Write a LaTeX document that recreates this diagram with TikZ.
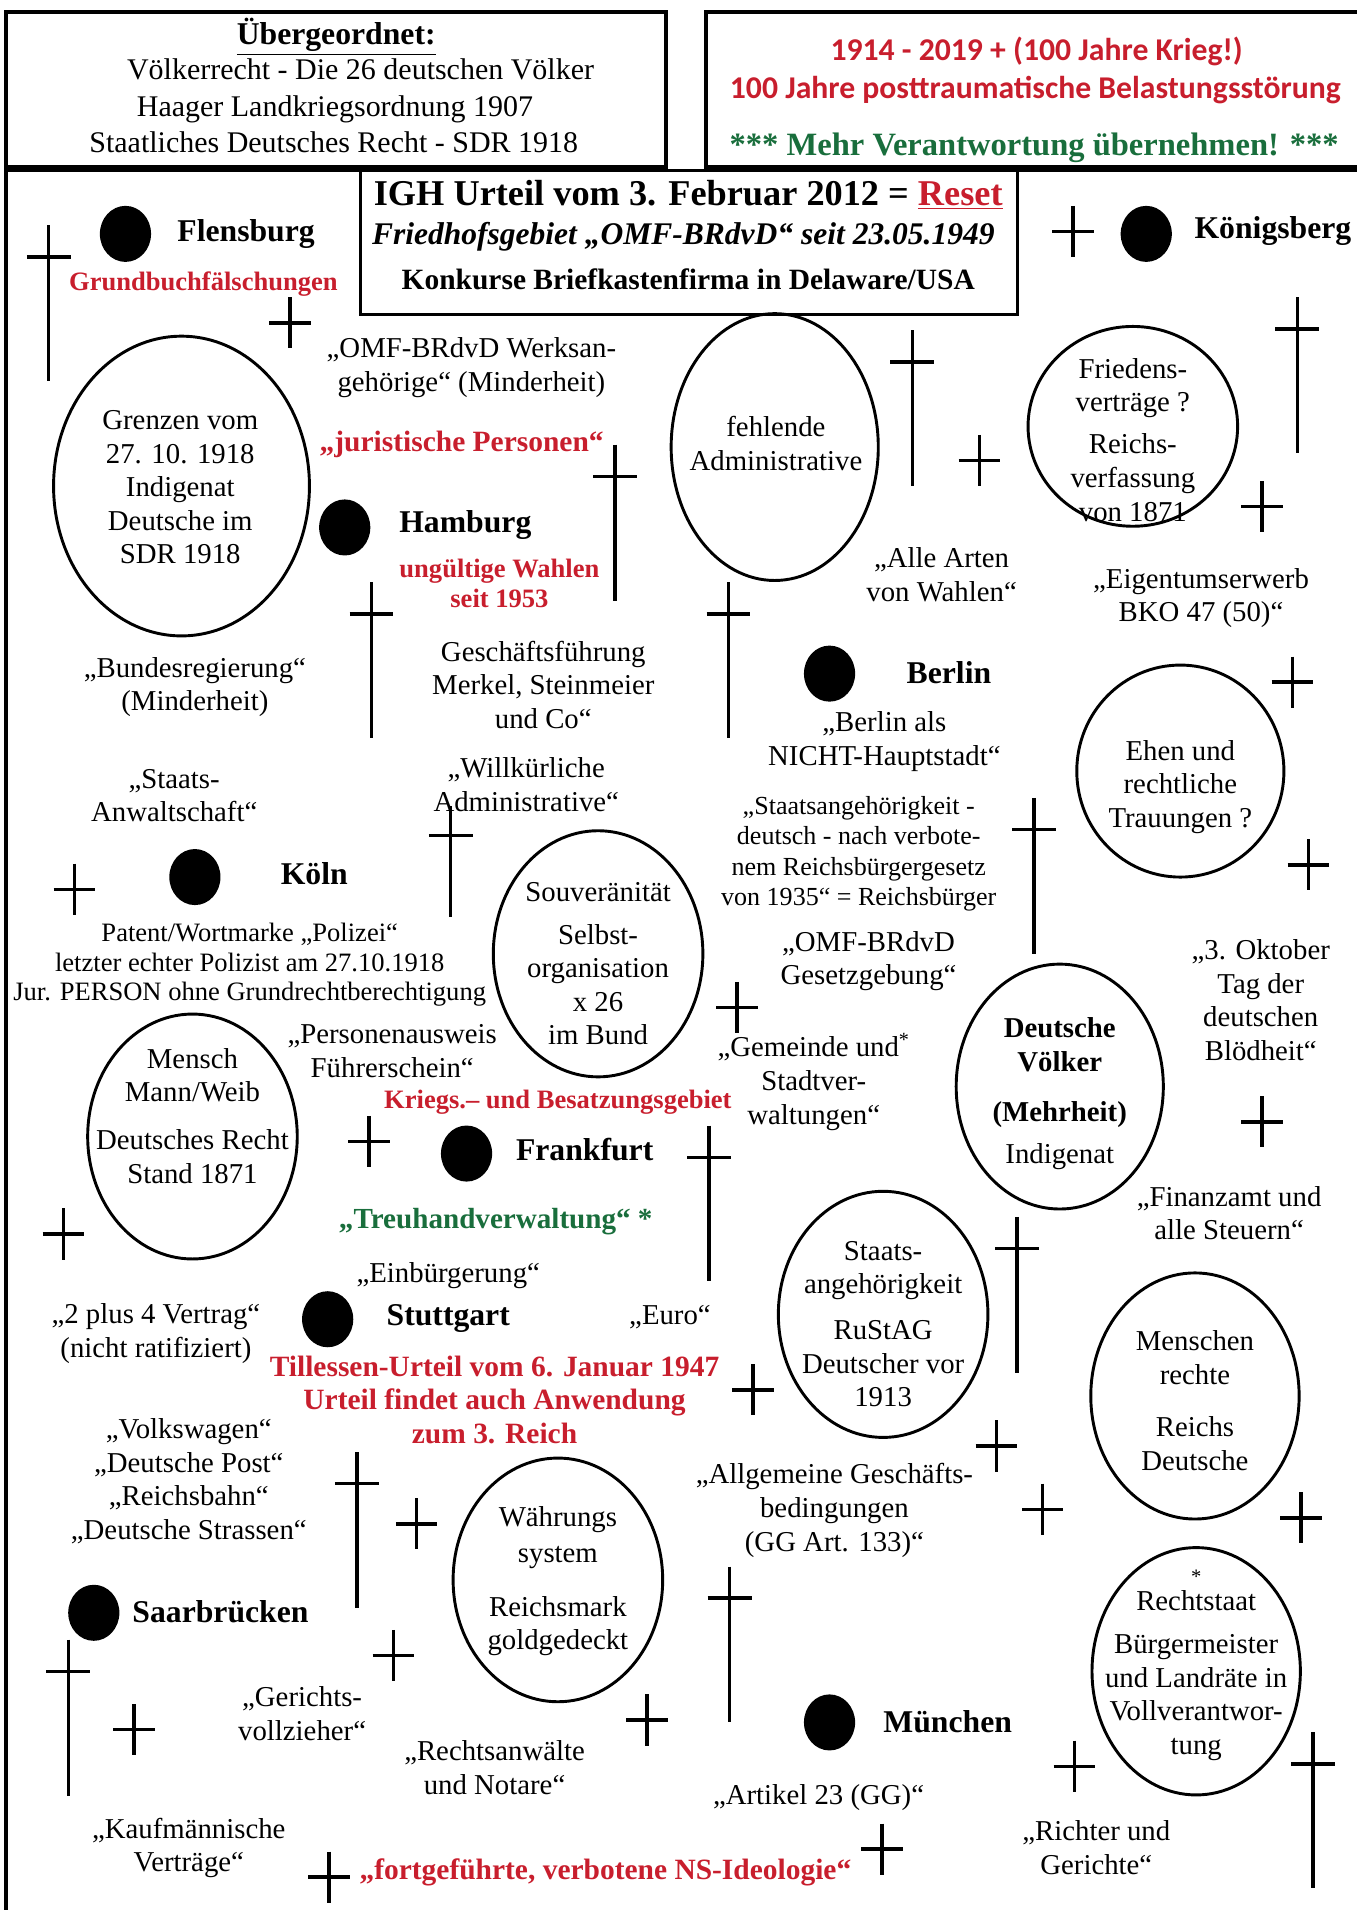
\documentclass[tikz,border=0pt]{standalone}
\usepackage{fontspec}
\setmainfont{Liberation Serif}
\newfontfamily\calfont{Carlito}
\usetikzlibrary{shapes.geometric}
\definecolor{hRed}{RGB}{200,30,45}
\definecolor{hGreen}{RGB}{25,110,60}

\begin{document}
\begin{tikzpicture}[x=0.025cm, y=-0.025cm,
	crossline/.style={line width=2pt},
	headbox/.style={draw, line width=2.4pt, minimum height=3.175cm, inner sep=0pt},
	bubble/.style={draw, ellipse, line width=1.7pt, minimum width=4.3cm, minimum height=5.05cm, inner sep=0pt},
	citydot/.style={fill, ellipse, minimum width=1.05cm, minimum height=1.15cm, inner sep=0pt},
	citylabel/.style={inner sep=0pt, font=\bfseries\fontsize{18.5}{22}\selectfont},
	txt/.style={align=center, inner sep=0pt, font=\fontsize{16.8}{19.6}\selectfont},
	smalltxt/.style={txt, font=\fontsize{15.5}{17.4}\selectfont},
	tinytxt/.style={txt, font=\fontsize{15.2}{17.8}\selectfont},
	headtxt/.style={txt, font=\fontsize{17.5}{20}\selectfont},
	redlabel/.style={txt, text=hRed, font=\bfseries\fontsize{15.5}{17.7}\selectfont},
	redbig/.style={txt, text=hRed, font=\bfseries\fontsize{17.2}{19.5}\selectfont},
	greenlabel/.style={txt, text=hGreen, font=\bfseries\fontsize{17}{19}\selectfont}]
	\newcommand{\PLUS}[2]{\draw[crossline] (#1,#2-21) -- (#1,#2+21) (#1-17,#2) -- (#1+17,#2);}
	\newcommand{\CROSS}[2]{\draw[crossline] (#1,#2) -- (#1,#2+128) (#1-18,#2+26) -- (#1+18,#2+26);}
	\useasboundingbox (0,0) rectangle (1114,1568);

	% header
	\node[headbox, minimum width=13.55cm] (over) at (276,73.5) {};
	\node[headbox, minimum width=13.6cm] (krieg) at (852,73.5) {};
	\draw[line width=2.2pt] (5,1575) -- (5,140) -- (1120,140);
	\node[draw, line width=1.8pt, minimum width=13.475cm, minimum height=2.95cm, inner sep=0pt] (igh) at (565.5,199) {};

	\node[headtxt, font=\bfseries\fontsize{18.5}{22}\selectfont] (overtitle) at (276,30) {\underline{Übergeordnet:}};
	\node[headtxt] (voelkerrecht) at (296,57) {Völkerrecht - Die 26 deutschen Völker};
	\node[headtxt] (hlko) at (275,90) {Haager Landkriegsordnung 1907};
	\node[headtxt] (sdr) at (274,117) {Staatliches Deutsches Recht - SDR 1918};

	\node[txt, text=hRed, font=\calfont\bfseries\fontsize{18.5}{22}\selectfont] (hundert) at (851,42) {1914 - 2019 + (100 Jahre Krieg!)};
	\node[txt, text=hRed, font=\calfont\bfseries\fontsize{18.5}{22}\selectfont] (ptbs) at (850,74) {100 Jahre posttraumatische Belastungsstörung};
	\node[greenlabel, font=\bfseries\fontsize{19}{22}\selectfont] (verantw) at (849,121) {*** Mehr Verantwortung übernehmen! ***};

	\node[txt, font=\bfseries\fontsize{21.2}{24}\selectfont] (igh1) at (565,160) {IGH Urteil vom 3. Februar 2012 = \textcolor{hRed}{\underline{Reset}}};
	\node[txt, font=\bfseries\itshape\fontsize{18.4}{22}\selectfont] (igh2) at (561,194) {Friedhofsgebiet „OMF-BRdvD“ seit 23.05.1949};
	\node[txt, font=\bfseries\fontsize{17.2}{20}\selectfont] (igh3) at (565,229) {Konkurse Briefkastenfirma in Delaware/USA};

	% Staedte
	\node[citydot] (flensburg) at (103,192) {};
	\node[citylabel] (flensburgtxt) at (202,192) {Flensburg};
	\node[redlabel] (grundbuch) at (167,233) {Grundbuchfälschungen};
	\node[citydot] (koenigsberg) at (941,192) {};
	\node[citylabel] (koenigsbergtxt) at (1045,190) {Königsberg};
	\node[citydot] (hamburg) at (283,433) {};
	\node[citylabel] (hamburgtxt) at (382,431) {Hamburg};
	\node[citydot] (berlin) at (681,553) {};
	\node[citylabel] (berlintxt) at (779,552) {Berlin};
	\node[citydot] (koeln) at (160,720) {};
	\node[citylabel] (koelntxt) at (258,717) {Köln};
	\node[citydot] (frankfurt) at (383,947) {};
	\node[citylabel] (frankfurttxt) at (480,944) {Frankfurt};
	\node[citydot] (stuttgart) at (269,1083) {};
	\node[citylabel] (stuttgarttxt) at (368,1082) {Stuttgart};
	\node[citydot] (saarbruecken) at (77,1324) {};
	\node[citylabel] (saarbrueckentxt) at (181,1323) {Saarbrücken};
	\node[citydot] (muenchen) at (681,1414) {};
	\node[citylabel] (muenchentxt) at (778,1413) {München};

	% Ellipsen
	\node[bubble, minimum width=5.25cm, minimum height=6.15cm] (grenzen) at (149,399) {};
	\node[txt] (grenzentxt) at (148,400) {Grenzen vom\\27. 10. 1918\\Indigenat\\Deutsche im\\SDR 1918};
	\node[bubble, minimum width=4.25cm, minimum height=5.475cm] (admin) at (636,367) {};
	\node[txt] (admintxt) at (637,364) {fehlende\\Administrative};
	\node[bubble, minimum width=4.3cm, minimum height=4.1cm] (frieden) at (930,350) {};
	\node[txt] (friedentxt) at (930,361) {Friedens-\\verträge ?\\[5pt]Reichs-\\verfassung\\von 1871};
	\node[bubble, minimum width=4.25cm, minimum height=4.35cm] (ehen) at (969,633) {};
	\node[txt] (ehentxt) at (969,646) {Ehen und\\rechtliche\\Trauungen ?};
	\node[bubble] (souveraen) at (491,783) {};
	\node[txt] (souveraentxt) at (491,791) {Souveränität\\[5.5pt]Selbst-\\organisation\\x 26\\im Bund};
	\node[bubble, minimum width=4.3cm, minimum height=5.025cm] (mensch) at (158,933) {};
	\node[txt] (menschtxt) at (158,916) {Mensch\\Mann/Weib\\[8.5pt]Deutsches Recht\\Stand 1871};
	\node[bubble, minimum width=4.25cm, minimum height=5.025cm] (voelker) at (870,892) {};
	\node[txt] (voelkertxt) at (870,898) {\textbf{Deutsche}\\\textbf{Völker}\\[10pt]\textbf{(Mehrheit)}\\[5pt]Indigenat};
	\node[bubble] (staats) at (725,1079) {};
	\node[txt] (staatstxt) at (725,1087) {Staats-\\angehörigkeit\\[7pt]RuStAG\\Deutscher vor\\1913};
	\node[bubble, minimum width=4.275cm] (menschenrechte) at (981,1146) {};
	\node[txt] (menschenrechtetxt) at (981,1150) {Menschen\\rechte\\[11pt]Reichs\\Deutsche};
	\node[bubble, minimum height=5cm] (waehrung) at (458,1297) {};
	\node[txt] (waehrungtxt) at (458,1298) {Währungs\\[1.5pt]system\\[12pt]Reichsmark\\goldgedeckt};
	\node[bubble, minimum width=4.275cm, minimum height=5.075cm] (rechtstaat) at (982,1372) {};
	\node[txt] (rechtstaattxt) at (982,1367) {{\fontsize{12}{12}\selectfont *}\\[-3.5pt]Rechtstaat\\[5.5pt]Bürgermeister\\und Landräte in\\Vollverantwor-\\tung};

	% Beschriftungen
	\node[txt] (werk) at (387,302) {„OMF-BRdvD Werksan-\\gehörige“ (Minderheit)};
	\node[redbig] (juristisch) at (379,365) {„juristische Personen“};
	\node[redlabel] (wahlen) at (410,479) {ungültige Wahlen\\seit 1953};
	\node[txt] (gf) at (446,562) {Geschäftsführung\\Merkel, Steinmeier\\und Co“};
	\node[txt] (bundreg) at (160,564) {„Bundesregierung“\\(Minderheit)};
	\node[txt] (arten) at (773,472) {„Alle Arten\\von Wahlen“};
	\node[txt] (eigentum) at (986,491) {„Eigentumserwerb\\BKO 47 (50)“};
	\node[txt] (berlinals) at (726,609) {„Berlin als\\NICHT-Hauptstadt“};
	\node[txt] (staatsanw) at (143,653) {„Staats-\\Anwaltschaft“};
	\node[txt] (willkuer) at (432,644) {„Willkürliche\\Administrative“};
	\node[tinytxt] (reichsbuerger) at (705,701) {„Staatsangehörigkeit -\\deutsch - nach verbote-\\nem Reichsbürgergesetz\\von 1935“ = Reichsbürger};
	\node[txt] (gesetz) at (713,789) {„OMF-BRdvD\\Gesetzgebung“};
	\node[smalltxt] (polizei) at (205,792) {Patent/Wortmarke „Polizei“\\letzter echter Polizist am 27.10.1918\\Jur. PERSON ohne Grundrechtberechtigung};
	\node[txt] (oktober) at (1035,821) {„3. Oktober\\Tag der\\deutschen\\Blödheit“};
	\node[txt] (ausweis) at (322,863) {„Personenausweis\\Führerschein“};
	\node[txt] (gemeinde) at (668,888) {„Gemeinde und\textsuperscript{*}\\Stadtver-\\waltungen“};
	\node[redlabel] (besatzung) at (458,905) {Kriegs.– und Besatzungsgebiet};
	\node[greenlabel] (treuhand) at (407,1003) {„Treuhandverwaltung“ *};
	\node[txt] (einbuergerung) at (368,1047) {„Einbürgerung“};
	\node[txt] (zweiplusvier) at (128,1095) {„2 plus 4 Vertrag“\\(nicht ratifiziert)};
	\node[txt] (euro) at (550,1081) {„Euro“};
	\node[redbig] (tillessen) at (406,1149) {Tillessen-Urteil vom 6. Januar 1947\\Urteil findet auch Anwendung\\zum 3. Reich};
	\node[txt] (finanzamt) at (1009,996) {„Finanzamt und\\alle Steuern“};
	\node[txt] (marken) at (155,1216) {„Volkswagen“\\„Deutsche Post“\\„Reichsbahn“\\„Deutsche Strassen“};
	\node[txt] (agb) at (685,1240) {„Allgemeine Geschäfts-\\bedingungen\\(GG Art. 133)“};
	\node[txt] (vollzieher) at (248,1407) {„Gerichts-\\vollzieher“};
	\node[txt] (anwaelte) at (406,1451) {„Rechtsanwälte\\und Notare“};
	\node[txt] (artikel) at (672,1476) {„Artikel 23 (GG)“};
	\node[txt] (kaufm) at (155,1517) {„Kaufmännische\\Verträge“};
	\node[redbig] (nsideologie) at (497,1537) {„fortgeführte, verbotene NS-Ideologie“};
	\node[txt] (richter) at (900,1517) {„Richter und\\Gerichte“};

	% Kreuze
	\CROSS{40}{185}
	\CROSS{505}{365}
	\CROSS{305}{478}
	\CROSS{598}{478}
	\CROSS{749}{271}
	\CROSS{1065}{244}
	\CROSS{849}{655}
	\draw[crossline] (370,662) -- (370,753) (352,686) -- (388,686);
	\CROSS{582}{924}
	\CROSS{835}{999}
	\CROSS{293}{1192}
	\CROSS{56}{1346}
	\CROSS{599}{1286}
	\CROSS{1078}{1422}
	\PLUS{238}{265}
	\PLUS{804}{378}
	\PLUS{881}{190}
	\PLUS{1036}{416}
	\PLUS{1061}{560}
	\PLUS{1074}{710}
	\PLUS{61}{730}
	\PLUS{605}{827}
	\PLUS{303}{937}
	\PLUS{52}{1013}
	\PLUS{1036}{921}
	\PLUS{618}{1141}
	\PLUS{818}{1187}
	\PLUS{856}{1239}
	\PLUS{1068}{1246}
	\PLUS{342}{1251}
	\PLUS{110}{1420}
	\PLUS{323}{1359}
	\PLUS{531}{1412}
	\PLUS{882}{1450}
	\PLUS{724}{1518}
	\PLUS{270}{1541}
\end{tikzpicture}
\end{document}
